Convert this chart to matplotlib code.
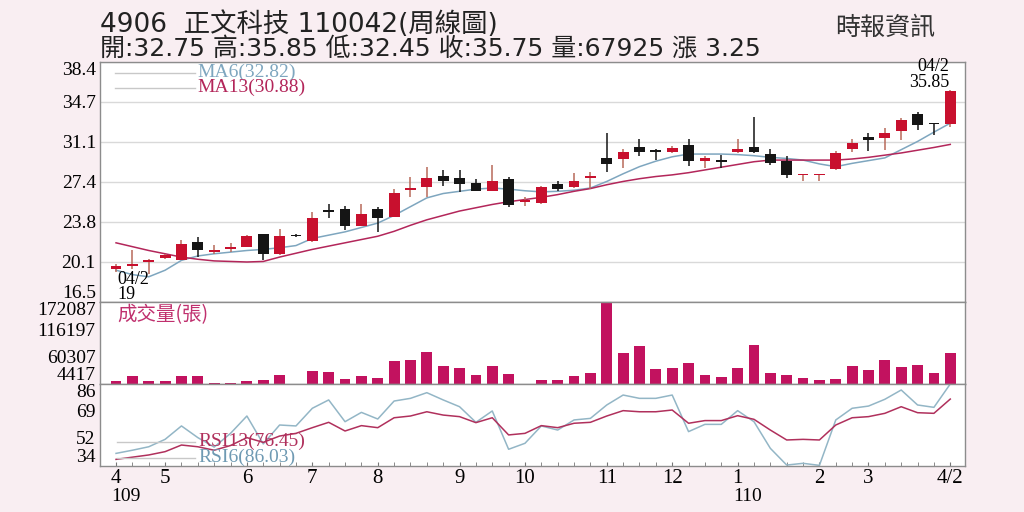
import matplotlib.pyplot as plt
import matplotlib.transforms as mtransforms
import numpy as np

plt.rcParams['font.family'] = ['Liberation Serif', 'Noto Sans CJK TC']

# weekly candles, 109/04 .. 110/04/02
opens = [19.55, 19.8, 20.15, 20.55, 20.35, 22.0, 21.05, 21.35, 21.55, 22.7,
         20.85, 22.65, 22.1, 24.8, 25.0, 23.45, 25.0, 24.3, 26.75, 26.95,
         28.0, 27.8, 27.4, 26.65, 27.7, 25.6, 25.5, 27.25, 26.95, 27.85,
         29.6, 29.55, 30.6, 30.25, 30.2, 30.8, 29.4, 29.35, 30.15, 30.6,
         30.0, 29.4, 28.05, 28.05, 28.6, 30.45, 31.55, 31.5, 32.1, 33.65,
         32.75, 32.75]
highs = [20.0, 21.2, 20.4, 20.9, 22.2, 22.4, 21.7, 21.85, 22.6, 22.75,
         23.15, 22.7, 24.75, 25.4, 25.3, 25.4, 25.2, 26.8, 27.9, 28.85,
         28.5, 28.5, 27.7, 29.0, 27.95, 26.05, 27.1, 27.5, 28.25, 28.4,
         31.95, 30.45, 31.35, 30.5, 30.7, 31.35, 29.8, 29.9, 31.35, 33.4,
         30.45, 29.8, 28.15, 28.15, 30.25, 31.35, 31.9, 32.4, 33.3, 33.85,
         32.75, 35.85]
lows = [19.25, 19.55, 19.1, 20.4, 20.3, 20.6, 20.9, 21.1, 21.5, 20.35,
        20.8, 22.4, 22.0, 24.15, 23.1, 23.4, 22.9, 24.25, 26.1, 26.05,
        27.1, 26.55, 26.6, 26.6, 25.15, 25.3, 25.45, 26.6, 26.9, 26.85,
        28.4, 28.75, 29.85, 29.5, 30.1, 28.9, 28.7, 28.7, 30.1, 30.1,
        29.0, 27.8, 27.5, 27.5, 28.5, 30.2, 30.3, 30.35, 31.3, 32.2,
        31.75, 32.45]
closes = [19.8, 20.0, 20.33, 20.75, 21.8, 21.2, 21.25, 21.4, 22.5, 20.9,
          22.5, 22.5, 24.2, 24.7, 23.45, 24.5, 24.15, 26.45, 26.8, 27.85,
          27.55, 27.25, 26.65, 27.55, 25.35, 25.8, 27.0, 26.8, 27.55, 27.9,
          29.05, 30.2, 30.15, 30.2, 30.55, 29.35, 29.65, 29.3, 30.45, 30.2,
          29.15, 28.1, 28.1, 28.1, 30.1, 31.0, 31.3, 31.95, 33.15, 32.65,
          32.7, 35.75]
ma6 = [19.4, 19.0, 18.8, 19.4, 20.3, 20.7, 20.9, 21.05, 21.2, 21.3,
       21.45, 21.65, 22.3, 22.6, 22.9, 23.3, 23.7, 24.4, 25.2, 26.0,
       26.4, 26.6, 26.8, 26.9, 26.8, 26.65, 26.55, 26.6, 26.7, 26.9,
       27.5, 28.2, 28.85, 29.35, 29.75, 30.0, 30.0, 30.0, 29.95, 29.85,
       29.7, 29.6, 29.45, 29.1, 28.85, 29.15, 29.4, 29.65, 30.4, 31.15,
       32.0, 32.82]
ma13 = [21.9, 21.55, 21.2, 20.9, 20.6, 20.4, 20.25, 20.2, 20.15, 20.2,
        20.6, 20.95, 21.3, 21.6, 21.9, 22.2, 22.5, 22.95, 23.5, 24.0,
        24.4, 24.8, 25.1, 25.4, 25.65, 25.85, 26.05, 26.3, 26.6, 26.85,
        27.2, 27.5, 27.75, 27.95, 28.1, 28.3, 28.55, 28.8, 29.05, 29.3,
        29.45, 29.45, 29.45, 29.45, 29.45, 29.55, 29.7, 29.9, 30.1, 30.35,
        30.6, 30.88]
volume = [9700, 21390, 9700, 11170, 21390, 20160, 6460, 6460, 10550, 13210,
          23440, 4417, 30390, 28960, 14640, 20160, 16690, 50840, 54110, 69860,
          40620, 36520, 22820, 40620, 24870, 4417, 11980, 13210, 20160, 26910,
          172087, 67810, 81510, 35090, 36520, 47360, 22820, 18730, 36520, 84790,
          26910, 23440, 16690, 11980, 14640, 41840, 33660, 52880, 39180, 43890,
          26910, 67925]
rsi6 = [42.0, 44.0, 46.2, 50.9, 59.4, 52.0, 46.0, 54.7, 65.7, 48.0,
        60.0, 59.4, 70.6, 75.9, 62.1, 68.0, 63.8, 75.2, 76.9, 80.5,
        75.9, 71.6, 61.7, 68.9, 44.6, 48.4, 59.4, 56.8, 63.2, 64.2,
        72.7, 79.0, 76.9, 76.9, 79.0, 55.8, 60.4, 60.4, 69.1, 62.1,
        45.2, 34.6, 35.7, 34.4, 63.2, 70.6, 72.0, 76.3, 82.2, 72.7,
        71.2, 86.03]
rsi13 = [38.2, 39.6, 41.0, 43.1, 47.3, 46.2, 44.0, 47.0, 52.0, 49.0,
         53.0, 54.7, 58.3, 61.7, 56.2, 59.6, 58.3, 64.6, 65.7, 68.4,
         66.3, 65.3, 61.5, 64.6, 53.7, 54.7, 59.6, 58.3, 61.1, 61.7,
         65.7, 69.1, 68.4, 68.4, 69.5, 61.1, 62.8, 62.8, 65.9, 63.6,
         56.8, 50.5, 50.9, 50.5, 60.0, 64.6, 65.3, 67.4, 71.6, 67.8,
         67.4, 76.45]

month_pos = [0, 3, 8, 12, 16, 21, 25, 30, 34, 38, 43, 46, 51]
month_labels = ['4', '5', '6', '7', '8', '9', '10', '11', '12', '1', '2', '3', '4/2']
price_ticks = [16.5, 20.15, 23.8, 27.45, 31.1, 34.75, 38.4]
price_labels = ['16.5', '20.1', '23.8', '27.4', '31.1', '34.7', '38.4']
vol_ticks = [4417, 60307, 116197, 172087]
rsi_ticks = [34, 52, 69, 86]

RED = '#c8102e'
RED_WICK = '#b86a5a'
BLACK = '#151515'
MA6_C = '#7ea6bf'
MA13_C = '#b3265a'
VOL_C = '#c2125f'
RSI6_C = '#93b6c6'
RSI13_C = '#b0305c'
BG = '#f9eef2'
SPINE = '#8c8c8c'

fig = plt.figure(figsize=(10.24, 5.12), dpi=100, facecolor=BG)
L, W = 100 / 1024, 865 / 1024
ax_p = fig.add_axes([L, 1 - 302 / 512, W, 240 / 512])
ax_v = fig.add_axes([L, 1 - 384 / 512, W, 82 / 512], sharex=ax_p)
ax_r = fig.add_axes([L, 1 - 466 / 512, W, 82 / 512], sharex=ax_p)

x = np.arange(len(closes))
o = np.array(opens)
c = np.array(closes)
up = c >= o

# price panel
ax_p.vlines(x, lows, highs, colors=np.where(up, RED_WICK, BLACK), lw=1.1, zorder=3)
ax_p.bar(x, np.maximum(np.abs(c - o), 0.15), bottom=np.minimum(o, c), width=0.66,
         color=np.where(up, RED, BLACK), zorder=4)
ax_p.plot(x, ma6, color=MA6_C, lw=1.1, zorder=2)
ax_p.plot(x, ma13, color=MA13_C, lw=1.1, zorder=2)
ax_p.set_ylim(16.5, 38.4)
ax_p.set_yticks(price_ticks)
ax_p.set_yticklabels(price_labels)
ax_p.grid(axis='y', color='#d9d9d9', lw=1)
ax_p.set_axisbelow(True)

ax_p.plot([0.017, 0.11], [0.955, 0.955], transform=ax_p.transAxes, color='#c8c8c8', lw=1)
ax_p.plot([0.017, 0.11], [0.893, 0.893], transform=ax_p.transAxes, color='#c8c8c8', lw=1)
ax_p.text(0.113, 0.957, 'MA6(32.82)', transform=ax_p.transAxes, color=MA6_C,
          fontsize=14, va='center')
ax_p.text(0.113, 0.893, 'MA13(30.88)', transform=ax_p.transAxes, color=MA13_C,
          fontsize=14, va='center')
ax_p.text(0.02, 0.095, '04/2', transform=ax_p.transAxes, fontsize=13, va='center')
ax_p.text(0.02, 0.03, '19', transform=ax_p.transAxes, fontsize=13, va='center')
ax_p.text(0.982, 0.98, '04/2', transform=ax_p.transAxes, fontsize=13, va='center', ha='right')
ax_p.text(0.982, 0.913, '35.85', transform=ax_p.transAxes, fontsize=13, va='center', ha='right')

# volume panel
ax_v.bar(x, volume, width=0.66, color=VOL_C, zorder=2)
ax_v.set_ylim(4417, 172087)
ax_v.set_yticks(vol_ticks)
ax_v.set_yticklabels([str(v) for v in vol_ticks])
ax_v.text(0.02, 0.85, '成交量(張)', transform=ax_v.transAxes, color='#c0306e',
          fontsize=14, va='center', family=['Noto Sans CJK TC'])

# rsi panel
ax_r.plot(x, rsi6, color=RSI6_C, lw=1.1)
ax_r.plot(x, rsi13, color=RSI13_C, lw=1.1)
ax_r.set_ylim(34, 86)
ax_r.set_yticks(rsi_ticks)
ax_r.plot([0.02, 0.11], [0.29, 0.29], transform=ax_r.transAxes, color='#c8c8c8', lw=1)
ax_r.plot([0.02, 0.11], [0.1, 0.1], transform=ax_r.transAxes, color='#c8c8c8', lw=1)
ax_r.text(0.114, 0.3, 'RSI13(76.45)', transform=ax_r.transAxes, color=RSI13_C,
          fontsize=14, va='center')
ax_r.text(0.114, 0.1, 'RSI6(86.03)', transform=ax_r.transAxes, color='#6f9ab3',
          fontsize=14, va='center')

ax_r.set_xlim(-0.98, 51.9)
ax_r.set_xticks(month_pos)
ax_r.set_xticklabels(month_labels)
ax_r.set_xticks(x, minor=True)
ax_r.tick_params(axis='x', which='both', direction='in', length=3, color='#777777',
                 labelsize=15, pad=2)
blend = mtransforms.blended_transform_factory(ax_r.transData, ax_r.transAxes)
ax_r.text(-0.3, -0.37, '109', transform=blend, fontsize=14, va='center', ha='left')
ax_r.text(37.75, -0.37, '110', transform=blend, fontsize=14, va='center', ha='left')

for ax in (ax_p, ax_v, ax_r):
    ax.set_facecolor('white')
    ax.tick_params(axis='y', length=0, labelsize=14, pad=3)
    for s in ax.spines.values():
        s.set_color(SPINE)
        s.set_linewidth(1)
for ax in (ax_p, ax_v):
    ax.tick_params(axis='x', which='both', length=0, labelbottom=False)

for ax in (ax_p, ax_v, ax_r):
    labs = ax.get_yticklabels()
    labs[0].set_va('bottom')
    labs[-1].set_va('top')

fig.text(L, 1 - 25 / 512, '4906  正文科技 110042(周線圖)', fontsize=19, va='center',
         family=['DejaVu Sans', 'Noto Sans CJK TC'], color='#222222')
fig.text(L, 1 - 49 / 512, '開:32.75 高:35.85 低:32.45 收:35.75 量:67925 漲 3.25',
         fontsize=18, va='center', family=['DejaVu Sans', 'Noto Sans CJK TC'],
         color='#222222')
fig.text(835 / 1024, 1 - 28 / 512, '時報資訊', fontsize=18, va='center',
         family=['Noto Sans CJK TC'], color='#333333')

fig.savefig('out.png', dpi=100, facecolor=BG)
